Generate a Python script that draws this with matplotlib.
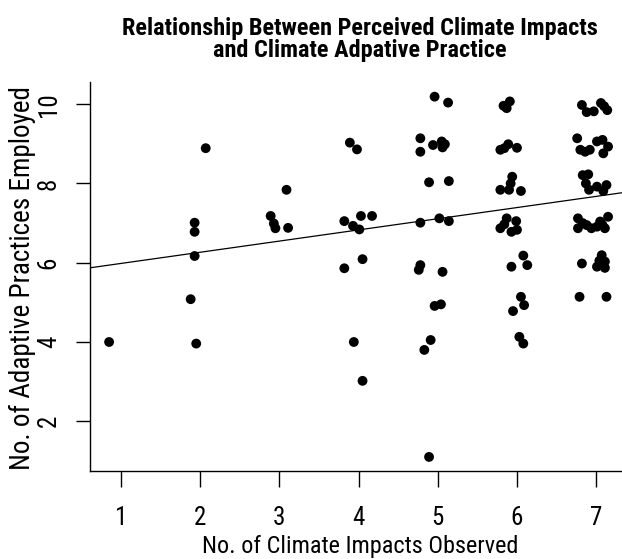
import matplotlib
matplotlib.use("Agg")
import matplotlib.pyplot as plt
from matplotlib import font_manager

# Jittered survey responses: climate impacts observed (x) vs adaptive practices employed (y)
impacts_x = [
    0.85,
    2.07, 1.93, 1.93, 1.93, 1.88, 1.95,
    3.09, 2.89, 2.93, 2.95, 3.11,
    3.89, 3.98, 3.82, 3.93, 4.01, 4.03, 4.17, 3.82, 4.05, 3.94, 4.05,
    4.96, 5.13, 4.78, 4.78, 4.94, 5.05, 5.09, 5.06, 4.89, 5.14, 4.78, 5.02, 5.14,
    4.78, 4.76, 5.06, 4.96, 5.04, 4.91, 4.83, 4.89,
    5.83, 5.91, 5.87, 5.79, 5.89, 6.00, 5.84, 5.94, 5.92, 5.79, 5.90, 6.05,
    5.87, 5.99, 5.79, 5.93, 6.00, 5.84, 6.08, 6.13, 5.93, 6.05, 6.09, 5.95, 6.03, 6.08,
    6.82, 6.88, 6.97, 7.06, 7.10, 7.14,
    6.76, 6.80, 6.86, 6.92, 7.01, 7.08, 7.15, 7.09,
    6.83, 6.90, 6.87, 6.91, 7.01, 7.09, 7.13,
    6.77, 6.77, 6.83, 6.88, 6.94, 7.01, 7.05, 7.11, 7.15, 7.08,
    6.82, 7.07, 7.11, 7.01, 7.11, 7.04,
    6.79, 7.13,
]
practices_y = [
    4.00,
    8.89, 7.01, 6.78, 6.17, 5.08, 3.96,
    7.84, 7.18, 6.99, 6.87, 6.88,
    9.03, 8.86, 7.05, 6.93, 6.84, 7.18, 7.18, 5.86, 6.09, 4.00, 3.02,
    10.19, 10.04, 9.14, 8.80, 8.97, 9.06, 8.99, 8.91, 8.03, 8.06, 7.01, 7.12, 7.05,
    5.94, 5.82, 5.77, 4.91, 4.95, 4.05, 3.80, 1.10,
    9.96, 10.07, 9.90, 8.85, 8.99, 8.90, 8.89, 8.17, 8.00, 7.84, 7.84, 7.81,
    7.12, 7.05, 6.87, 6.78, 6.83, 6.97, 6.18, 5.94, 5.90, 5.14, 4.93, 4.78, 4.13, 3.96,
    9.98, 9.80, 9.82, 10.03, 9.95, 9.85,
    9.14, 8.85, 8.80, 8.85, 9.06, 9.10, 8.93, 8.76,
    8.21, 8.23, 8.00, 7.84, 7.92, 7.81, 7.96,
    7.12, 6.87, 7.00, 6.95, 6.87, 6.91, 7.04, 6.87, 7.16, 6.95,
    5.98, 6.19, 6.03, 5.90, 5.87, 6.05,
    5.14, 5.14,
]

# Linear fit of practices on impacts
fit_intercept = 5.70
fit_slope = 0.282

x_ticks = [1, 2, 3, 4, 5, 6, 7]
y_ticks = [2, 4, 6, 8, 10]

title_lines = ["Relationship Between Perceived Climate Impacts",
               "and Climate Adpative Practice"]
x_label = "No. of Climate Impacts Observed"
y_label = "No. of Adaptive Practices Employed"

names = {f.name for f in font_manager.fontManager.ttflist}
family = "Liberation Sans"
for cand in ("Liberation Sans Narrow", "Roboto Condensed", "Open Sans Condensed"):
    if cand in names:
        family = cand
        break
plt.rcParams["font.family"] = [family, "DejaVu Sans"]

W, H = 622, 559
fig = plt.figure(figsize=(W / 100, H / 100), dpi=100)
ax = fig.add_axes([90 / W, (H - 471) / H, 1 - 90 / W, (471 - 82) / H])

ax.scatter(impacts_x, practices_y, s=50, color="black", edgecolors="none", zorder=3)

ax.set_xlim(0.609, 7.326)
ax.set_ylim(0.745, 10.56)
ax.axline((0, fit_intercept), slope=fit_slope, color="black", linewidth=0.9, zorder=2)

for side in ("top", "right"):
    ax.spines[side].set_visible(False)
for side in ("left", "bottom"):
    ax.spines[side].set_linewidth(1.0)
    ax.spines[side].set_color("black")

ax.set_xticks(x_ticks)
ax.set_xticklabels([str(v) for v in x_ticks])
ax.set_yticks(y_ticks)
ax.set_yticklabels([str(v) for v in y_ticks], rotation=90, va="center")
ax.tick_params(axis="x", length=11.2, width=1.0, pad=14, labelsize=18, colors="black")
ax.tick_params(axis="y", length=10, width=1.0, pad=11, labelsize=18, colors="black")

fig.text(359.5 / W, 1 - 28 / H, title_lines[0], ha="center", va="center",
         fontsize=17.5, fontweight="bold")
fig.text(359.5 / W, 1 - 51 / H, title_lines[1], ha="center", va="center",
         fontsize=17.5, fontweight="bold")
fig.text(360 / W, 1 - 546 / H, x_label, ha="center", va="center", fontsize=17.5)
fig.text(22 / W, 1 - 278 / H, y_label, ha="center", va="center", rotation=90, fontsize=19.5)

fig.savefig("out.png", dpi=100)
